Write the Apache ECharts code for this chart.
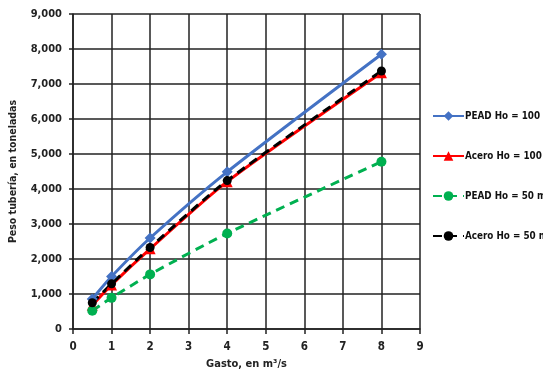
<!DOCTYPE html>
<html><head><meta charset="utf-8">
<script src="https://cdn.jsdelivr.net/npm/echarts@6/dist/echarts.min.js"></script>
<style>html,body{margin:0;padding:0;background:#fff}#c{width:543px;height:375px}</style>
</head><body><div id="c"></div>
<script>
const gasto = [0.5, 1, 2, 4, 8];
const peadHo100 = [860, 1500, 2600, 4490, 7850];
const aceroHo100 = [680, 1260, 2290, 4210, 7320];
const peadHo50 = [520, 890, 1560, 2730, 4780];
const aceroHo50 = [750, 1290, 2330, 4240, 7370];
const seriesNames = ['PEAD Ho = 100 m', 'Acero Ho = 100 m', 'PEAD Ho = 50 m', 'Acero Ho = 50 m'];

const font = '"DejaVu Sans Condensed", "Liberation Sans", Arial, sans-serif';
const pairs = v => gasto.map((x, i) => [x, v[i]]);
const chart = echarts.init(document.getElementById('c'));
chart.setOption({
  animation: false,
  textStyle: { fontFamily: font },
  grid: { left: 72, right: 123, top: 14, bottom: 44 },
  legend: {
    orient: 'vertical', left: 432, top: 111, itemGap: 30, padding: 0,
    itemWidth: 31, itemHeight: 12,
    textStyle: { fontFamily: font, fontWeight: 'bold', fontSize: 9.8, color: '#111', padding: [0, 0, 0, -4] },
    data: seriesNames
  },
  xAxis: {
    type: 'value', min: 0, max: 9, interval: 1,
    name: 'Gasto, en m³/s', nameLocation: 'middle', nameGap: 30,
    nameTextStyle: { fontFamily: font, fontWeight: 'bold', fontSize: 11, color: '#222' },
    axisLine: { show: true, lineStyle: { color: '#222', width: 1.5 } },
    axisTick: { show: true, length: 5, lineStyle: { color: '#222', width: 1.5 } },
    axisLabel: { fontFamily: font, fontWeight: 'bold', fontSize: 11.5, color: '#222', margin: 12 },
    splitLine: { show: true, lineStyle: { color: '#222', width: 1.5 } }
  },
  yAxis: {
    type: 'value', min: 0, max: 9000, interval: 1000,
    name: 'Peso tubería, en toneladas', nameLocation: 'middle', nameGap: 54,
    nameTextStyle: { fontFamily: font, fontWeight: 'bold', fontSize: 10.5, color: '#222' },
    axisLine: { show: true, lineStyle: { color: '#222', width: 1.5 } },
    axisTick: { show: true, length: 4, lineStyle: { color: '#222', width: 1.5 } },
    axisLabel: { fontFamily: font, fontWeight: 'bold', fontSize: 11, color: '#222', margin: 11,
      formatter: v => v.toLocaleString('en-US') },
    splitLine: { show: true, lineStyle: { color: '#222', width: 1.5 } }
  },
  series: [
    { name: seriesNames[0], type: 'line', data: pairs(peadHo100), smooth: 0.25,
      symbol: 'diamond', symbolSize: 11,
      lineStyle: { color: '#4472C4', width: 3 }, itemStyle: { color: '#4472C4' } },
    { name: seriesNames[1], type: 'line', data: pairs(aceroHo100), smooth: 0.25,
      symbol: 'triangle', symbolSize: 11,
      lineStyle: { color: '#FF0000', width: 3 }, itemStyle: { color: '#FF0000' } },
    { name: seriesNames[2], type: 'line', data: pairs(peadHo50), smooth: 0.25,
      symbol: 'circle', symbolSize: 10,
      lineStyle: { color: '#00B050', width: 3, type: [9, 6] }, itemStyle: { color: '#00B050' } },
    { name: seriesNames[3], type: 'line', data: pairs(aceroHo50), smooth: 0.25,
      symbol: 'circle', symbolSize: 9,
      lineStyle: { color: '#000000', width: 3, type: [9, 6] }, itemStyle: { color: '#000000' } }
  ]
});
</script></body></html>
